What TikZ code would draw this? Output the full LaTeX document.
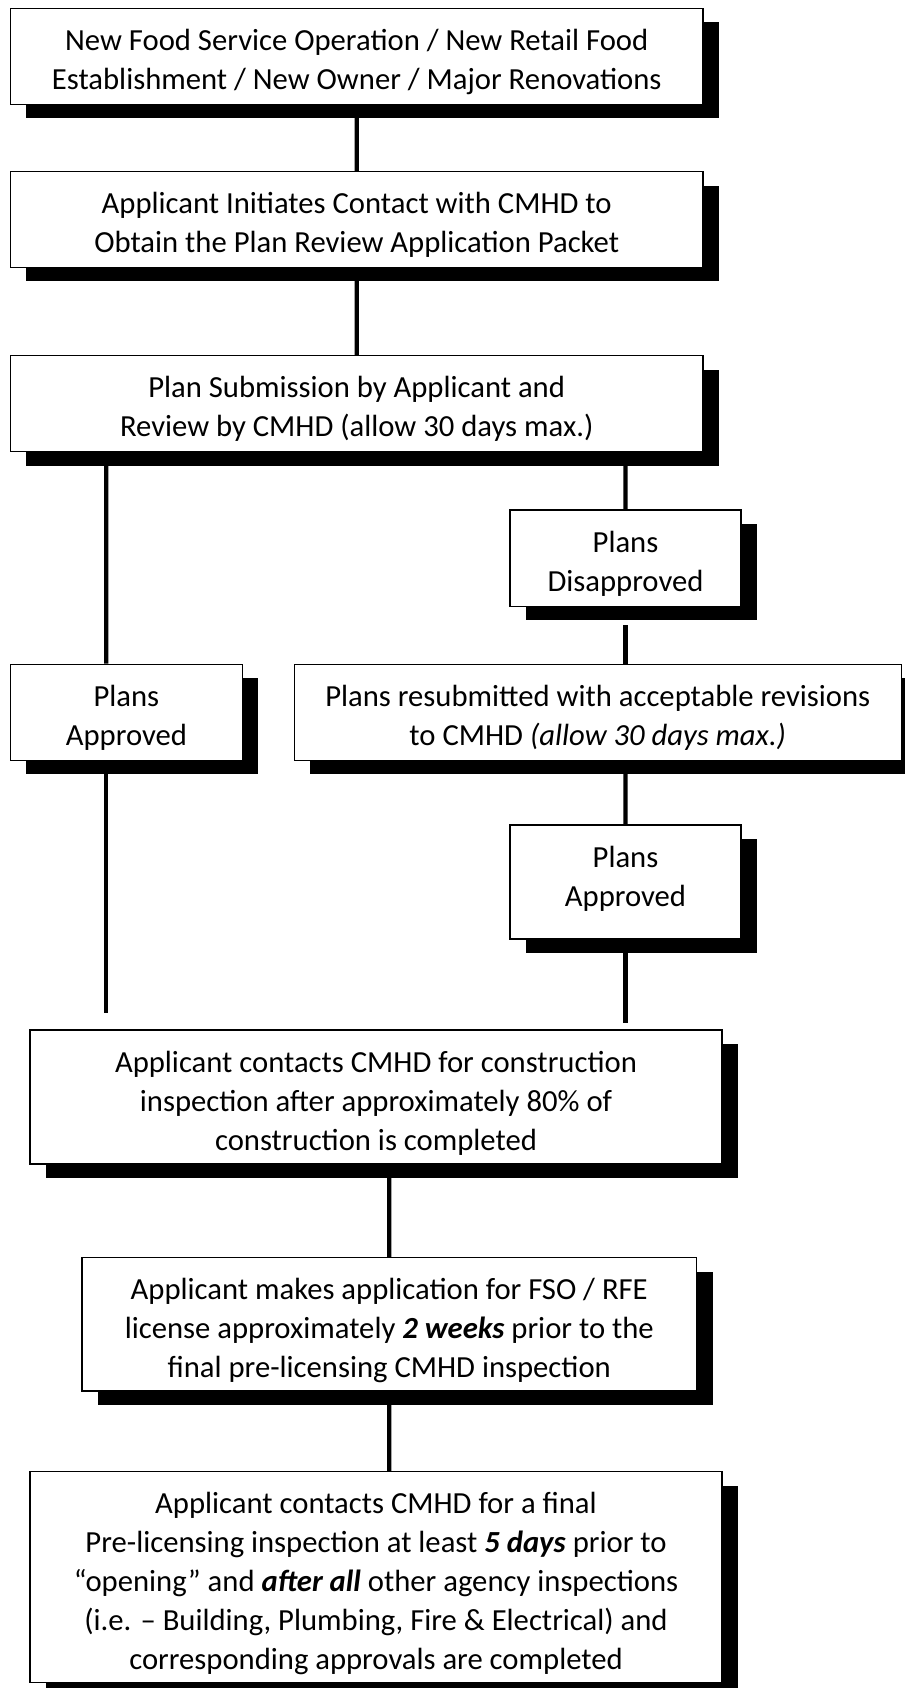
\documentclass[tikz,border=0pt]{standalone}
\usepackage{fontspec}
\setmainfont{Carlito}
\usetikzlibrary{shadows}
\newcommand{\boxtxt}[3]{\parbox[c][#2][t]{#1}{\centering\rule{0pt}{31.5pt}#3}}

\begin{document}
\begin{tikzpicture}[x=0.75pt, y=-0.75pt,
    font=\fontsize{23pt}{29.25pt}\selectfont,
    stepbox/.style={draw, line width=0.9pt, fill=white, inner sep=0pt,
      drop shadow={shadow xshift=12pt, shadow yshift=-10.5pt, opacity=1, fill=black}},
    link/.style={line width=3.2pt}]
  \useasboundingbox (0,0) rectangle (905,1688);
  \draw
  (356.7, 56.3) node[stepbox](1) {\boxtxt{519.5pt}{72pt}{New Food Service Operation / New Retail Food\\Establishment / New Owner / Major Renovations}}
  (356.7, 219.5) node[stepbox](2) {\boxtxt{519.5pt}{71.7pt}{Applicant Initiates Contact with CMHD to\\Obtain the Plan Review Application Packet}}
  (356.7, 403.7) node[stepbox](3) {\boxtxt{519.5pt}{72pt}{Plan Submission by Applicant and\\Review by CMHD (allow 30 days max.)}}
  (625.5, 558.2) node[stepbox](4) {\boxtxt{173.25pt}{72.3pt}{Plans\\Disapproved}}
  (126.4, 712.3) node[stepbox](5) {\boxtxt{174pt}{72pt}{Plans\\Approved}}
  (597.8, 712.3) node[stepbox](6) {\boxtxt{455.25pt}{72pt}{Plans resubmitted with acceptable revisions\\to CMHD \textit{(allow 30 days max.)}}}
  (625.5, 882) node[stepbox](7) {\boxtxt{173.25pt}{85.5pt}{Plans\\Approved}}
  (376, 1097) node[stepbox](8) {\boxtxt{519pt}{100.5pt}{Applicant contacts CMHD for construction\\inspection after approximately 80\% of\\construction is completed}}
  (389.3, 1324.3) node[stepbox](9) {\boxtxt{460.9pt}{100pt}{Applicant makes application for FSO / RFE\\license approximately \textbf{\textit{2 weeks}} prior to the\\final pre-licensing CMHD inspection}}
  (376, 1577.2) node[stepbox](10) {\boxtxt{519pt}{158.25pt}{Applicant contacts CMHD for a final\\Pre-licensing inspection at least \textbf{\textit{5 days}} prior to\\“opening” and \textbf{\textit{after all}} other agency inspections\\(i.e. – Building, Plumbing, Fire \& Electrical) and\\corresponding approvals are completed}};

  \draw[link]
  (1) -- (2)
  (2) -- (3)
  ([xshift=72.3pt]3.south west) -- ([xshift=72.3pt]5.north west)
  (4.north |- 3.south) -- (4)
  (7.north |- 6.south) -- (7)
  (9.north |- 8.south) -- (9)
  (9) -- (9.south |- 10.north);
  \draw[link, shorten <=13.5pt] (4) -- (4.south |- 6.north);
  \draw[link, shorten >=12pt] ([xshift=72.3pt]5.south west) -- ([xshift=72.3pt]5.south west |- 8.north);
  \draw[link, shorten >=4.5pt] (7) -- (7.south |- 8.north);
\end{tikzpicture}
\end{document}
